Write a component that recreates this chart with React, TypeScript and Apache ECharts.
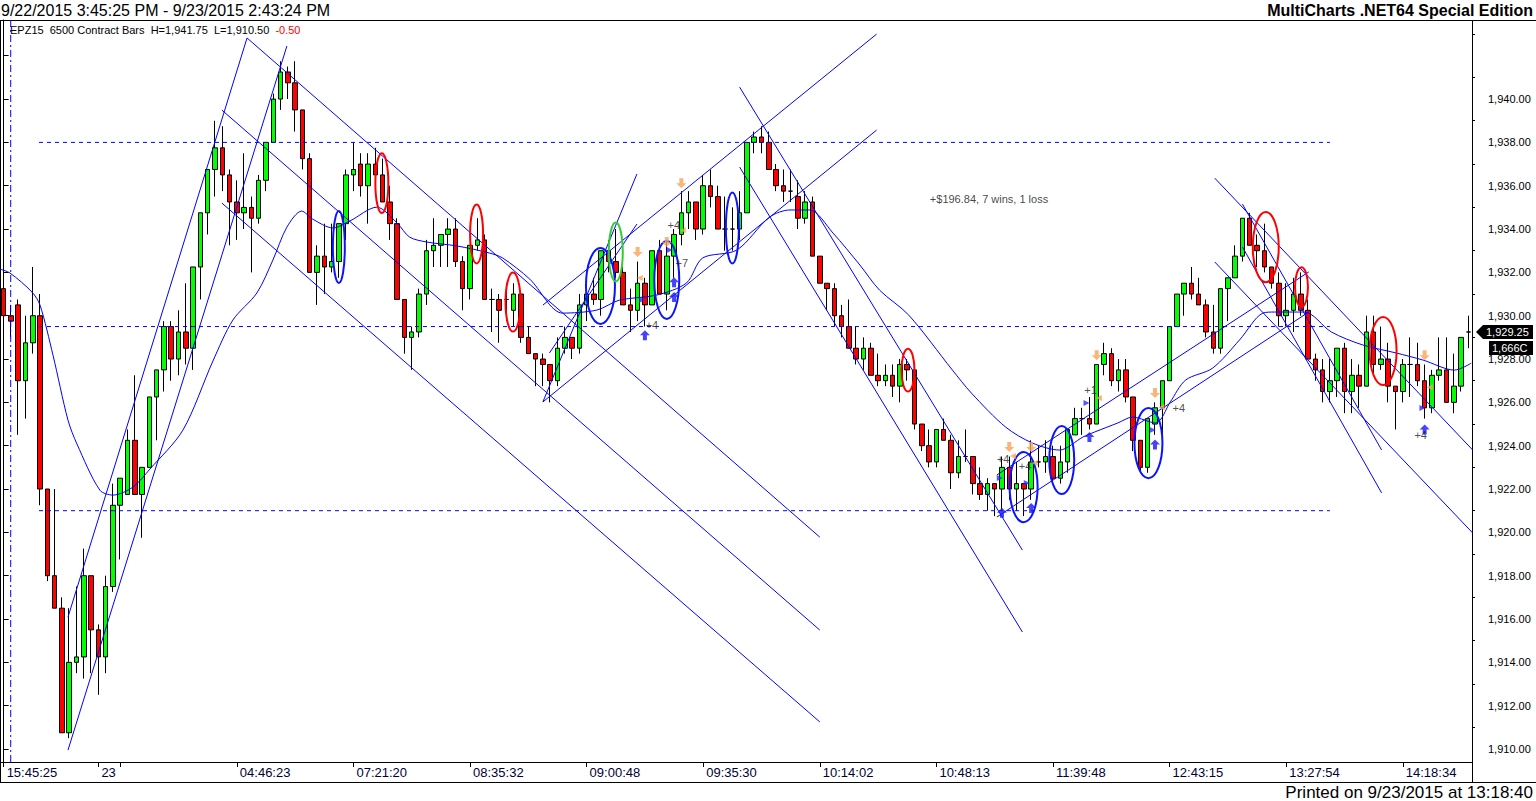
import React, { useEffect, useRef } from 'react';
import * as echarts from 'echarts';

const FONT = "'Liberation Sans', Arial, Helvetica, sans-serif";

const headerRange = '9/22/2015 3:45:25 PM - 9/23/2015 2:43:24 PM';
const headerBrand = 'MultiCharts .NET64 Special Edition';
const printedNote = 'Printed on 9/23/2015 at 13:18:40';
const symbolName = 'EPZ15  6500 Contract Bars';
const netChange = -0.5;
const barCountNote = '1,666C';

const opens = [
  1931.25, 1930.0, 1930.5, 1927.0, 1928.75, 1930.0, 1922.0, 1918.0, 1916.5, 1910.75,
  1914.0, 1914.25, 1918.0, 1915.5, 1914.25, 1917.5, 1921.25, 1921.75, 1924.25, 1921.75,
  1923.0, 1926.25, 1927.5, 1929.5, 1928.0, 1929.25, 1928.5, 1932.25, 1934.75, 1936.75,
  1937.75, 1936.5, 1935.25, 1934.75, 1935.0, 1934.5, 1936.25, 1938.0, 1940.0, 1941.25,
  1940.75, 1939.5, 1937.25, 1932.0, 1932.75, 1932.25, 1932.5, 1934.25, 1936.5, 1937.0,
  1936.0, 1937.0, 1936.5, 1935.25, 1934.25, 1930.75, 1929.0, 1929.25, 1931.0, 1933.0,
  1933.25, 1933.75, 1934.0, 1932.5, 1931.25, 1933.25, 1933.5, 1930.75, 1930.75, 1930.75,
  1930.25, 1931.0, 1929.0, 1928.25, 1928.0, 1927.75, 1927.0, 1928.5, 1929.0, 1928.5,
  1930.5, 1931.0, 1930.75, 1933.0, 1932.5, 1932.0, 1930.5, 1930.25, 1931.5, 1930.5,
  1933.0, 1931.0, 1932.75, 1933.75, 1934.75, 1935.25, 1934.0, 1936.0, 1935.5, 1934.0,
  1934.0, 1934.0, 1934.75, 1938.0, 1938.25, 1938.0, 1936.75, 1936.0, 1935.75, 1935.5,
  1934.5, 1935.25, 1932.75, 1931.5, 1931.25, 1930.0, 1929.5, 1928.5, 1928.0, 1928.5,
  1927.25, 1927.0, 1927.25, 1926.75, 1927.75, 1927.5, 1925.0, 1924.0, 1923.25, 1924.75,
  1924.25, 1922.75, 1923.5, 1923.5, 1922.25, 1921.75, 1922.25, 1922.0, 1923.0, 1922.0,
  1922.25, 1922.0, 1923.25, 1923.25, 1923.5, 1922.5, 1923.25, 1924.5, 1925.25, 1925.25,
  1925.0, 1927.75, 1928.25, 1927.0, 1927.5, 1926.25, 1924.25, 1923.0, 1925.0, 1925.75,
  1927.0, 1929.5, 1931.0, 1931.5, 1931.0, 1930.5, 1929.25, 1928.5, 1931.25, 1931.75,
  1932.75, 1934.5, 1933.25, 1933.0, 1932.25, 1931.5, 1930.0, 1930.25, 1931.0, 1930.25,
  1928.0, 1927.5, 1926.5, 1927.0, 1928.5, 1926.5, 1927.25, 1926.75, 1929.25, 1927.75,
  1928.0, 1926.75, 1926.5, 1927.75, 1927.75, 1927.0, 1925.75, 1927.25, 1927.5, 1926.0,
  1926.75, 1929.25,
];

const closes = [
  1930.0, 1929.75, 1927.0, 1928.75, 1930.0, 1922.0, 1918.0, 1916.5, 1910.75, 1914.0,
  1914.25, 1918.0, 1915.5, 1914.25, 1917.5, 1921.25, 1922.5, 1924.25, 1921.75, 1923.0,
  1926.25, 1927.5, 1929.5, 1928.0, 1929.25, 1928.5, 1932.25, 1934.75, 1936.75, 1937.75,
  1936.5, 1935.25, 1934.75, 1935.0, 1934.5, 1936.25, 1938.0, 1940.0, 1941.25, 1940.75,
  1939.5, 1937.25, 1932.0, 1932.75, 1932.25, 1932.5, 1934.25, 1936.5, 1936.75, 1936.0,
  1937.0, 1936.5, 1935.25, 1934.25, 1930.75, 1929.0, 1929.25, 1931.0, 1933.0, 1933.25,
  1933.75, 1934.0, 1932.5, 1931.25, 1933.25, 1933.5, 1930.75, 1930.75, 1930.25, 1930.75,
  1931.0, 1929.0, 1928.25, 1928.0, 1927.75, 1927.0, 1928.5, 1929.0, 1928.5, 1930.5,
  1931.0, 1930.75, 1933.0, 1932.5, 1932.0, 1930.5, 1930.25, 1931.5, 1930.5, 1933.0,
  1931.0, 1932.75, 1933.75, 1934.75, 1935.25, 1934.0, 1936.0, 1935.5, 1934.0, 1934.0,
  1934.0, 1934.75, 1938.0, 1938.25, 1938.0, 1936.75, 1936.0, 1935.75, 1935.75, 1934.5,
  1935.25, 1932.75, 1931.5, 1931.25, 1930.0, 1929.5, 1928.5, 1928.0, 1928.5, 1927.25,
  1927.0, 1927.25, 1926.75, 1927.75, 1927.5, 1925.0, 1924.0, 1923.25, 1924.75, 1924.25,
  1922.75, 1923.5, 1923.5, 1922.25, 1921.75, 1922.25, 1922.0, 1923.0, 1922.0, 1922.25,
  1922.0, 1923.25, 1923.25, 1923.5, 1922.5, 1923.25, 1924.75, 1925.25, 1925.25, 1925.0,
  1927.75, 1928.25, 1927.0, 1927.5, 1926.25, 1924.25, 1923.0, 1925.25, 1925.75, 1927.0,
  1929.5, 1931.0, 1931.5, 1931.0, 1930.5, 1929.25, 1928.5, 1931.25, 1931.75, 1932.75,
  1934.5, 1933.25, 1933.0, 1932.25, 1931.5, 1930.0, 1930.25, 1931.0, 1930.25, 1928.0,
  1927.5, 1926.5, 1927.0, 1928.5, 1926.5, 1927.25, 1926.75, 1929.25, 1927.75, 1928.0,
  1926.75, 1926.5, 1927.75, 1927.75, 1927.0, 1925.75, 1927.25, 1927.5, 1926.0, 1926.75,
  1929.0, 1929.25,
];

const lows = [
  1929.25, 1929.0, 1924.5, 1925.25, 1928.25, 1921.25, 1917.75, 1916.5, 1910.75, 1910.5,
  1913.5, 1913.25, 1913.5, 1912.5, 1913.5, 1917.25, 1918.75, 1921.75, 1921.75, 1919.75,
  1923.0, 1924.25, 1926.5, 1927.0, 1927.25, 1927.75, 1927.5, 1930.75, 1933.75, 1935.5,
  1935.75, 1933.25, 1933.5, 1934.0, 1932.0, 1934.25, 1935.75, 1938.0, 1939.5, 1940.0,
  1938.5, 1936.75, 1932.0, 1930.5, 1931.0, 1932.0, 1931.75, 1933.5, 1935.75, 1935.5,
  1934.25, 1935.75, 1935.25, 1933.5, 1930.75, 1928.25, 1927.5, 1929.0, 1930.5, 1932.25,
  1932.25, 1932.25, 1932.25, 1930.25, 1930.75, 1933.0, 1930.75, 1929.25, 1928.75, 1929.75,
  1929.5, 1928.75, 1928.25, 1926.75, 1926.75, 1926.0, 1926.75, 1928.25, 1928.0, 1928.25,
  1929.75, 1930.5, 1930.0, 1932.0, 1931.75, 1930.5, 1929.25, 1929.75, 1929.5, 1930.5,
  1931.0, 1930.25, 1931.75, 1933.25, 1934.0, 1933.5, 1933.75, 1935.0, 1934.0, 1933.0,
  1933.0, 1933.5, 1934.75, 1937.5, 1937.5, 1936.75, 1935.75, 1935.25, 1935.25, 1934.0,
  1934.25, 1932.75, 1931.5, 1930.25, 1929.5, 1929.0, 1928.5, 1927.75, 1927.5, 1927.25,
  1926.75, 1926.75, 1926.25, 1926.0, 1927.0, 1924.75, 1923.75, 1923.0, 1923.0, 1924.25,
  1922.0, 1922.5, 1923.25, 1921.75, 1921.5, 1921.0, 1920.75, 1921.0, 1921.5, 1921.0,
  1920.75, 1921.5, 1923.0, 1922.75, 1922.25, 1922.25, 1922.75, 1924.5, 1924.5, 1924.75,
  1925.0, 1927.25, 1926.75, 1926.5, 1926.0, 1923.75, 1922.75, 1922.75, 1924.5, 1924.5,
  1927.0, 1929.5, 1930.0, 1930.75, 1930.5, 1929.0, 1928.25, 1928.25, 1929.75, 1931.75,
  1932.5, 1933.25, 1932.25, 1932.0, 1931.25, 1929.5, 1929.5, 1929.25, 1930.0, 1928.0,
  1927.0, 1926.0, 1926.0, 1926.25, 1925.5, 1925.5, 1925.75, 1926.75, 1927.25, 1927.5,
  1926.0, 1924.75, 1926.0, 1926.25, 1926.75, 1925.25, 1925.5, 1927.0, 1926.0, 1925.5,
  1926.5, 1928.5,
];

const highs = [
  1932.0, 1930.5, 1930.75, 1930.0, 1932.25, 1931.0, 1922.0, 1922.0, 1917.0, 1916.5,
  1917.5, 1919.25, 1918.0, 1915.75, 1918.0, 1922.25, 1922.5, 1924.75, 1927.25, 1923.0,
  1926.25, 1927.5, 1929.75, 1929.75, 1930.25, 1931.5, 1932.25, 1934.75, 1936.75, 1939.0,
  1938.75, 1936.75, 1936.25, 1937.5, 1935.5, 1936.5, 1938.0, 1940.25, 1941.75, 1941.5,
  1941.75, 1939.5, 1937.5, 1933.25, 1934.25, 1934.25, 1934.25, 1936.75, 1938.0, 1937.5,
  1937.5, 1937.75, 1937.25, 1936.0, 1934.5, 1930.75, 1929.5, 1931.25, 1933.5, 1934.5,
  1933.75, 1934.5, 1934.5, 1932.75, 1933.25, 1934.5, 1933.75, 1931.25, 1931.0, 1931.5,
  1931.5, 1931.0, 1929.5, 1928.25, 1928.25, 1927.75, 1929.0, 1929.5, 1929.0, 1931.0,
  1931.75, 1931.75, 1933.0, 1933.5, 1934.0, 1932.25, 1931.25, 1932.5, 1931.75, 1933.0,
  1933.5, 1933.5, 1934.0, 1935.75, 1935.75, 1935.25, 1936.5, 1936.75, 1936.0, 1935.5,
  1935.0, 1935.75, 1938.0, 1938.5, 1938.75, 1938.5, 1937.0, 1936.75, 1936.75, 1936.25,
  1935.75, 1935.5, 1932.75, 1931.5, 1931.5, 1930.5, 1930.75, 1929.5, 1929.0, 1928.75,
  1928.25, 1927.75, 1927.75, 1928.0, 1928.0, 1927.5, 1925.0, 1924.75, 1924.75, 1925.25,
  1924.5, 1924.25, 1924.75, 1923.5, 1923.0, 1922.5, 1922.25, 1923.5, 1923.5, 1923.25,
  1922.25, 1924.25, 1924.0, 1924.25, 1924.0, 1924.0, 1924.75, 1925.75, 1925.75, 1926.25,
  1927.75, 1928.75, 1928.5, 1928.0, 1928.0, 1926.25, 1924.25, 1925.25, 1926.0, 1927.0,
  1929.5, 1931.0, 1931.5, 1932.25, 1931.75, 1930.75, 1930.5, 1931.25, 1931.75, 1933.25,
  1934.5, 1934.75, 1933.75, 1934.25, 1932.25, 1932.0, 1931.5, 1931.75, 1932.0, 1930.75,
  1928.25, 1928.0, 1928.0, 1928.5, 1928.75, 1928.0, 1927.75, 1930.0, 1930.0, 1929.5,
  1928.75, 1926.75, 1928.0, 1929.0, 1928.75, 1927.75, 1927.5, 1929.0, 1929.0, 1928.25,
  1929.0, 1930.0,
];

// bar index / label of the time-axis ticks
const xTickBars = [0, 13, 16, 32, 48, 64, 80, 96, 112, 128, 144, 160, 176, 192];
const xTickLabels = ['15:45:25', '23', '', '04:46:23', '07:21:20', '08:35:32', '09:00:48', '09:35:30', '10:14:02', '10:48:13', '11:39:48', '12:43:15', '13:27:54', '14:18:34'];

const yTickValues = [1910, 1912, 1914, 1916, 1918, 1920, 1922, 1924, 1926, 1928, 1930, 1932, 1934, 1936, 1938, 1940, 1942];
const yLabelValues = [1910, 1912, 1914, 1916, 1918, 1920, 1922, 1924, 1926, 1928, 1930, 1932, 1934, 1936, 1938, 1940];
const yMinorTickValues = [1911, 1913, 1915, 1917, 1919, 1921, 1923, 1925, 1927, 1929, 1931, 1933, 1935, 1937, 1939, 1941, 1943];
const yMin = 1909.4;
const yMax = 1943.65;

// moving average: [bar index, price]
const maPoints = [
  [-0.5, 1932.15], [0.87, 1931.97], [3.89, 1931.09], [4.99, 1930.49], [6.77, 1928.18], [8.83, 1925.18],
  [10.06, 1924.08], [13.2, 1921.95], [15.0, 1921.72], [17.74, 1922.09], [20.07, 1922.92], [24.6, 1924.72],
  [28.72, 1927.91], [31.46, 1929.8], [34.75, 1931.05], [36.95, 1932.57], [38.87, 1934.09], [40.9, 1934.83],
  [42.4, 1934.46], [45.2, 1934.05], [47.5, 1934.37], [51.2, 1935.01], [54.0, 1934.28], [55.7, 1933.63],
  [58.1, 1933.4], [62.2, 1933.22], [66.7, 1932.89], [68.5, 1932.66], [72.2, 1931.69], [76.7, 1930.12],
  [81.4, 1930.26], [84.5, 1930.72], [89.6, 1930.95], [93.7, 1931.51], [95.9, 1932.66], [100.6, 1933.03],
  [105.1, 1934.55], [107.9, 1934.88], [110.6, 1934.88], [113.8, 1933.82], [117.5, 1932.34], [120.2, 1931.18],
  [124.2, 1930.03], [130.2, 1927.49], [132.8, 1926.43], [137.5, 1924.86], [141.2, 1924.12], [144.9, 1923.8],
  [148.1, 1924.4], [149.7, 1924.63], [152.9, 1925.05], [154.9, 1925.32], [158.1, 1925.05], [160.1, 1926.02],
  [162.2, 1927.03], [165.9, 1927.58], [169.6, 1928.88], [172.8, 1930.12], [174.4, 1930.17], [178.5, 1930.17],
  [182.2, 1929.25], [186.5, 1928.65], [191.1, 1928.28], [194.8, 1927.95], [199.1, 1927.49], [201.4, 1927.81],
];

// drawn trend lines: [bar1, price1, bar2, price2]
const trendLines = [
  [8.83, 1916.09, 33.4, 1942.82],
  [8.83, 1909.95, 38.87, 1942.45],
  [33.4, 1942.82, 112.0, 1919.78],
  [29.95, 1939.49, 112.0, 1915.49],
  [29.95, 1935.2, 112.0, 1911.25],
  [74.0, 1926.02, 86.9, 1936.54],
  [74.9, 1928.28, 86.9, 1934.23],
  [74.0, 1930.49, 119.8, 1943.0],
  [74.0, 1926.02, 119.8, 1938.57],
  [101.0, 1940.55, 139.8, 1919.18],
  [101.0, 1936.86, 139.8, 1915.4],
  [136.3, 1922.65, 179.1, 1932.02],
  [136.3, 1920.71, 179.1, 1930.17],
  [166.2, 1936.35, 201.6, 1923.8],
  [166.2, 1932.48, 201.6, 1919.97],
  [170.0, 1935.15, 189.1, 1923.8],
  [170.0, 1933.17, 189.1, 1921.82],
];

const levelPrices = [1938, 1929.5, 1921];
const levelFromBar = 4.85;
const levelToBar = 182;
const sessionBar = 0.97;

// ellipses: [center bar, center price, half width (bars), half height (points), kind 0=blue 1=red 2=green]
const rings = [
  [46.0, 1933.17, 0.82, 1.66, 0],
  [51.9, 1936.12, 0.89, 1.38, 1],
  [64.9, 1933.77, 0.89, 1.36, 1],
  [69.9, 1930.63, 1.03, 1.36, 1],
  [81.9, 1931.37, 1.99, 1.75, 0],
  [84.0, 1932.94, 0.96, 1.36, 2],
  [91.0, 1931.65, 1.71, 1.8, 0],
  [100.0, 1934.05, 0.89, 1.64, 0],
  [124.1, 1927.49, 0.89, 0.99, 1],
  [139.97, 1922.09, 1.92, 1.62, 0],
  [145.2, 1923.34, 1.71, 1.57, 0],
  [157.1, 1924.12, 1.92, 1.62, 0],
  [173.2, 1933.17, 1.78, 1.62, 1],
  [178.1, 1931.32, 0.89, 0.92, 1],
  [189.3, 1928.37, 1.85, 1.57, 1],
];

const shortArrows = [[87, 1932.94], [91, 1933.4], [93, 1936.12], [138, 1923.94], [141, 1923.94], [150, 1928.18], [158, 1926.43], [195, 1928.18]];
const longArrows = [[88, 1929.1], [92, 1931.55], [92, 1930.86], [137, 1920.9], [141, 1921.12], [149, 1924.4], [158, 1924.05], [195, 1924.75]];
const entryMarks = [[87.6, 1930.72], [91.4, 1933.03], [136.7, 1922.51], [140.4, 1922.28], [148.6, 1925.97], [157.7, 1924.72], [194.7, 1925.74]];
const exitMarks = [[87.3, 1931.74], [93.2, 1933.95], [138.5, 1923.52], [141.5, 1923.2], [150.3, 1926.2], [158.9, 1925.78], [195.7, 1926.7]];
const tradeTexts = [
  [88.1, 1929.57, '+4'], [92.2, 1932.43, '+7'], [91.1, 1934.18, '+4'], [136.3, 1923.38, '+4'],
  [139.3, 1923.06, '+4'], [148.3, 1926.57, '+1'], [160.4, 1925.74, '+4'], [193.6, 1924.5, '+4'],
];
const profitNote = [127.1, 1935.38, '+$196.84, 7 wins, 1 loss'];

const fmt2 = (v: number) => v.toLocaleString('en-US', { minimumFractionDigits: 2, maximumFractionDigits: 2 });

export default function App() {
  const ref = useRef<HTMLDivElement>(null);
  useEffect(() => {
    const el = ref.current;
    if (!el) return;
    const chart = echarts.init(el, null, { renderer: 'svg' });
    const n = opens.length;
    const categories = opens.map((_, i) => String(i));
    const candleData = opens.map((o, i) => [o, closes[i], lows[i], highs[i]]);
    const tickSet = new Set(xTickBars);
    const labelMap = new Map<number, string>(xTickBars.map((b, i) => [b, xTickLabels[i]]));
    const BLUE = '#0000ff';
    const ringColors = ['#0a14ff', '#ff0000', '#33cc33'];

    const lineBase = { type: 'line', xAxisIndex: 1, yAxisIndex: 0, symbol: 'none', silent: true, z: 3 };

    const series: any[] = [
      {
        type: 'candlestick', xAxisIndex: 0, yAxisIndex: 0, data: candleData, barWidth: 5, z: 2,
        itemStyle: { color: '#00ff00', color0: '#ff0000', borderColor: '#000', borderColor0: '#000', borderColorDoji: '#000', borderWidth: 1 },
      },
      { ...lineBase, data: maPoints, smooth: 0.3, lineStyle: { color: BLUE, width: 1 } },
      ...trendLines.map(([x1, p1, x2, p2]) => ({ ...lineBase, data: [[x1, p1], [x2, p2]], lineStyle: { color: BLUE, width: 1 } })),
      ...levelPrices.map((p) => ({ ...lineBase, data: [[levelFromBar, p], [levelToBar, p]], lineStyle: { color: BLUE, width: 1, type: [4, 4] } })),
      { ...lineBase, data: [[sessionBar, yMin], [sessionBar, yMax]], lineStyle: { color: BLUE, width: 1, type: [7, 3, 2, 3] } },
      {
        type: 'custom', xAxisIndex: 1, yAxisIndex: 0, z: 5, silent: true, data: rings,
        encode: { x: 0, y: 1 },
        renderItem: (params: any, api: any) => {
          const c = api.coord([api.value(0), api.value(1)]);
          const e = api.coord([api.value(0) + api.value(2), api.value(1) + api.value(3)]);
          return {
            type: 'ellipse',
            shape: { cx: c[0], cy: c[1], rx: Math.abs(e[0] - c[0]), ry: Math.abs(c[1] - e[1]) },
            style: { fill: 'none', stroke: ringColors[api.value(4)], lineWidth: 2 },
          };
        },
      },
      {
        type: 'scatter', xAxisIndex: 1, yAxisIndex: 0, z: 6, silent: true, data: shortArrows,
        symbol: 'path://M3,0H7V5H10L5,10L0,5H3Z', symbolSize: [10, 10], itemStyle: { color: '#f7a45a' },
      },
      {
        type: 'scatter', xAxisIndex: 1, yAxisIndex: 0, z: 6, silent: true, data: longArrows,
        symbol: 'path://M5,0L10,5H7V10H3V5H0Z', symbolSize: [10, 10], itemStyle: { color: '#1515ff' },
      },
      {
        type: 'scatter', xAxisIndex: 1, yAxisIndex: 0, z: 6, silent: true, data: entryMarks,
        symbol: 'triangle', symbolRotate: -90, symbolSize: [6, 6], itemStyle: { color: '#2a2aff' },
      },
      {
        type: 'scatter', xAxisIndex: 1, yAxisIndex: 0, z: 6, silent: true, data: exitMarks,
        symbol: 'triangle', symbolRotate: 90, symbolSize: [6, 6], itemStyle: { color: '#f7a45a' },
      },
      {
        type: 'scatter', xAxisIndex: 1, yAxisIndex: 0, z: 7, silent: true, symbolSize: 0,
        data: tradeTexts.map(([x, y, t]) => ({ value: [x, y], name: t })),
        label: { show: true, position: 'right', distance: 0, formatter: '{b}', fontSize: 11, fontFamily: FONT, color: '#222' },
      },
      {
        type: 'scatter', xAxisIndex: 1, yAxisIndex: 0, z: 7, silent: true, symbolSize: 0,
        data: [{ value: [profitNote[0], profitNote[1]], name: profitNote[2] }],
        label: { show: true, position: 'right', distance: 0, formatter: '{b}', fontSize: 11, fontFamily: FONT, color: '#111' },
      },
    ];

    const option: any = {
      animation: false,
      backgroundColor: '#ffffff',
      grid: { left: 0, top: 20, width: 1472, height: 742, show: false },
      xAxis: [
        {
          type: 'category', data: categories, boundaryGap: true, gridIndex: 0,
          axisLine: { show: true, onZero: false, lineStyle: { color: '#000', width: 1 } },
          axisTick: { show: true, alignWithLabel: true, length: 5, interval: (i: number) => tickSet.has(i), lineStyle: { color: '#000' } },
          axisLabel: {
            show: true, interval: (i: number) => !!labelMap.get(i), formatter: (_v: string, i: number) => labelMap.get(i) || '',
            align: 'left', margin: 4, padding: [0, 0, 0, 3], fontSize: 13, fontFamily: FONT, color: '#000033',
          },
          splitLine: { show: false },
        },
        { type: 'value', min: -0.5, max: n - 0.5, show: false, gridIndex: 0 },
      ],
      yAxis: [
        {
          type: 'value', position: 'right', min: yMin, max: yMax, gridIndex: 0,
          axisLine: { show: true, lineStyle: { color: '#000' } },
          axisTick: { show: true, length: 5, customValues: yTickValues, lineStyle: { color: '#000' } },
          axisLabel: { show: true, customValues: yLabelValues, formatter: (v: number) => fmt2(v), margin: 16, fontSize: 11, fontFamily: FONT, color: '#000' },
          splitLine: { show: false },
        },
        {
          type: 'value', position: 'right', min: yMin, max: yMax, gridIndex: 0,
          axisLine: { show: false },
          axisTick: { show: true, length: 3, customValues: yMinorTickValues, lineStyle: { color: '#000' } },
          axisLabel: { show: false },
          splitLine: { show: false },
        },
      ],
      series,
    };
    chart.setOption(option);

    const lastClose = closes[n - 1];
    const py = Math.round(chart.convertToPixel({ yAxisIndex: 0 }, lastClose) as number);
    const maxHigh = Math.max(...highs);
    const minLow = Math.min(...lows);

    chart.setOption({
      graphic: [
        { type: 'text', left: 1, top: 2, style: { text: headerRange, fontSize: 16, fontFamily: FONT, fill: '#000' } },
        { type: 'text', right: 3, top: 2, style: { text: headerBrand, fontSize: 16, fontWeight: 'bold', fontFamily: FONT, fill: '#000' } },
        { type: 'line', shape: { x1: 0, y1: 20.5, x2: 1536, y2: 20.5 }, style: { stroke: '#000', lineWidth: 1 } },
        { type: 'line', shape: { x1: 0.5, y1: 20, x2: 0.5, y2: 782 }, style: { stroke: '#000', lineWidth: 1 } },
        { type: 'line', shape: { x1: 1472.5, y1: 20, x2: 1472.5, y2: 782 }, style: { stroke: '#000', lineWidth: 1 } },
        { type: 'line', shape: { x1: 0, y1: 782.5, x2: 1536, y2: 782.5 }, style: { stroke: '#000', lineWidth: 1 } },
        {
          type: 'text', left: 10, top: 24,
          style: {
            text: `{a|${symbolName}  H=${fmt2(maxHigh)}  L=${fmt2(minLow)}}{b|  ${fmt2(netChange)}}`,
            rich: { a: { fontSize: 11, fontFamily: FONT, fill: '#000' }, b: { fontSize: 11, fontFamily: FONT, fill: '#ff0000' } },
          },
        },
        { type: 'text', right: 3, top: 784, style: { text: printedNote, fontSize: 17, fontFamily: FONT, fill: '#000' } },
        {
          type: 'polygon', z: 100,
          shape: { points: [[1476, py], [1483, py - 7], [1533, py - 7], [1533, py + 7], [1483, py + 7]] },
          style: { fill: '#000' },
        },
        { type: 'text', z: 101, x: 1486, y: py, style: { text: fmt2(lastClose), fontSize: 11, fontFamily: FONT, fill: '#fff', verticalAlign: 'middle' } },
        { type: 'rect', z: 100, shape: { x: 1489, y: py + 9, width: 44, height: 14 }, style: { fill: '#000' } },
        { type: 'text', z: 101, x: 1492, y: py + 16, style: { text: barCountNote, fontSize: 11, fontFamily: FONT, fill: '#fff', verticalAlign: 'middle' } },
      ],
    });

    return () => chart.dispose();
  }, []);

  return <div ref={ref} style={{ position: 'fixed', left: 0, top: 0, width: 1536, height: 801, background: '#fff' }} />;
}
